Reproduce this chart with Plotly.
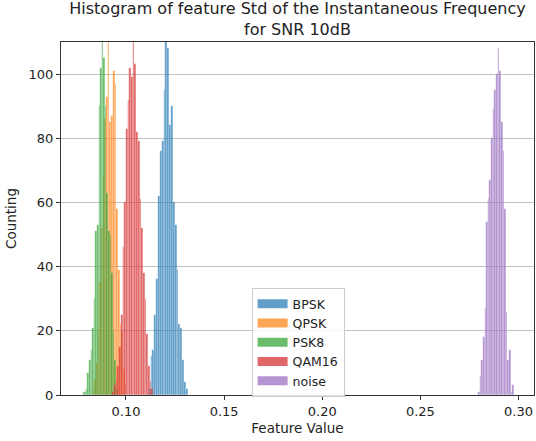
import plotly.graph_objects as go

# ---- data ----
series_names = ["BPSK", "QPSK", "PSK8", "QAM16", "noise"]
series_colors = ["#1f77b4", "#ff7f0e", "#2ca02c", "#d62728", "#9467bd"]

# each series: left edge of first bin, bin width, counts per bin
bpsk_start = 0.11158
bpsk_width = 0.000947
bpsk_counts = [2, 12, 14, 25, 36, 62, 76, 79, 95, 112, 108, 84, 90, 60, 53, 39, 22, 21, 11, 4, 2]

qpsk_start = 0.08302
qpsk_width = 0.000858
qpsk_counts = [2, 5, 10, 20, 35, 52, 68, 86, 93, 113, 85, 87, 101, 97, 58, 39, 22, 20, 8, 3]

psk8_start = 0.0779
psk8_width = 0.000811
psk8_counts = [1, 1, 2, 7, 11, 14, 21, 30, 51, 53, 90, 102, 111, 105, 90, 63, 51, 50, 38, 20, 11, 2]

qam16_start = 0.09306
qam16_width = 0.000867
qam16_counts = [1, 3, 5, 9, 15, 25, 46, 60, 83, 92, 102, 99, 113, 103, 82, 79, 61, 52, 38, 30, 19, 9, 4, 2]

noise_start = 0.27935
noise_width = 0.000835
noise_counts = [1, 6, 11, 18, 27, 54, 61, 67, 80, 89, 95, 100, 108, 101, 85, 76, 58, 26, 11, 14, 1, 3]

x_ticks = [0.10, 0.15, 0.20, 0.25, 0.30]
x_tick_labels = ["0.10", "0.15", "0.20", "0.25", "0.30"]
y_ticks = [0, 20, 40, 60, 80, 100]

starts = [bpsk_start, qpsk_start, psk8_start, qam16_start, noise_start]
widths = [bpsk_width, qpsk_width, psk8_width, qam16_width, noise_width]
counts = [bpsk_counts, qpsk_counts, psk8_counts, qam16_counts, noise_counts]


def rgba(hex_color, a):
    h = hex_color.lstrip("#")
    r, g, b = int(h[0:2], 16), int(h[2:4], 16), int(h[4:6], 16)
    return f"rgba({r},{g},{b},{a})"


FONT = "DejaVu Sans"
fig = go.Figure()

for name, col, s, w, c in zip(series_names, series_colors, starts, widths, counts):
    centers = [s + (i + 0.5) * w for i in range(len(c))]
    fig.add_trace(go.Bar(
        x=centers, y=c, width=[w] * len(c), name=name,
        marker=dict(color=col, line=dict(color="rgba(255,255,255,0.35)", width=0.4)),
        opacity=0.7, showlegend=False,
    ))

# legend proxies (wide rectangular swatches like the reference)
for name, col in zip(series_names, series_colors):
    fig.add_trace(go.Scatter(
        x=[None], y=[None], mode="lines", name=name,
        line=dict(color=rgba(col, 0.7), width=9),
    ))

fig.update_layout(
    width=536, height=441,
    margin=dict(l=61, r=2, t=42, b=46),
    paper_bgcolor="white", plot_bgcolor="white",
    barmode="overlay", bargap=0,
    font=dict(family=FONT, size=13, color="#222"),
    title=dict(
        text="Histogram of feature Std of the Instantaneous Frequency<br>for SNR 10dB",
        x=0.555, xanchor="center", y=0.968, yanchor="top",
        font=dict(family=FONT, size=16, color="#222"),
    ),
    legend=dict(
        x=0.403, xanchor="left", y=0.303, yanchor="top",
        bgcolor="rgba(255,255,255,0.85)", bordercolor="#cccccc", borderwidth=1,
        font=dict(family=FONT, size=12.5, color="#222"),
        tracegroupgap=0,
    ),
    xaxis=dict(
        range=[0.0669, 0.3079], tickvals=x_ticks, ticktext=x_tick_labels,
        showgrid=False, zeroline=False,
        showline=True, mirror=True, linecolor="#333", linewidth=1,
        ticks="outside", ticklen=4, tickcolor="#333",
        tickfont=dict(family=FONT, size=13, color="#222"),
        title=dict(text="Feature Value", font=dict(family=FONT, size=13.5, color="#222"), standoff=5),
    ),
    yaxis=dict(
        range=[0, 110], tickvals=y_ticks,
        showgrid=True, gridcolor="#c2c2c2", gridwidth=1, zeroline=False,
        showline=True, mirror=True, linecolor="#333", linewidth=1,
        ticks="outside", ticklen=4, tickcolor="#333",
        tickfont=dict(family=FONT, size=13, color="#222"),
        title=dict(text="Counting", font=dict(family=FONT, size=13.5, color="#222"), standoff=8),
    ),
)

fig.write_html("out.html")
